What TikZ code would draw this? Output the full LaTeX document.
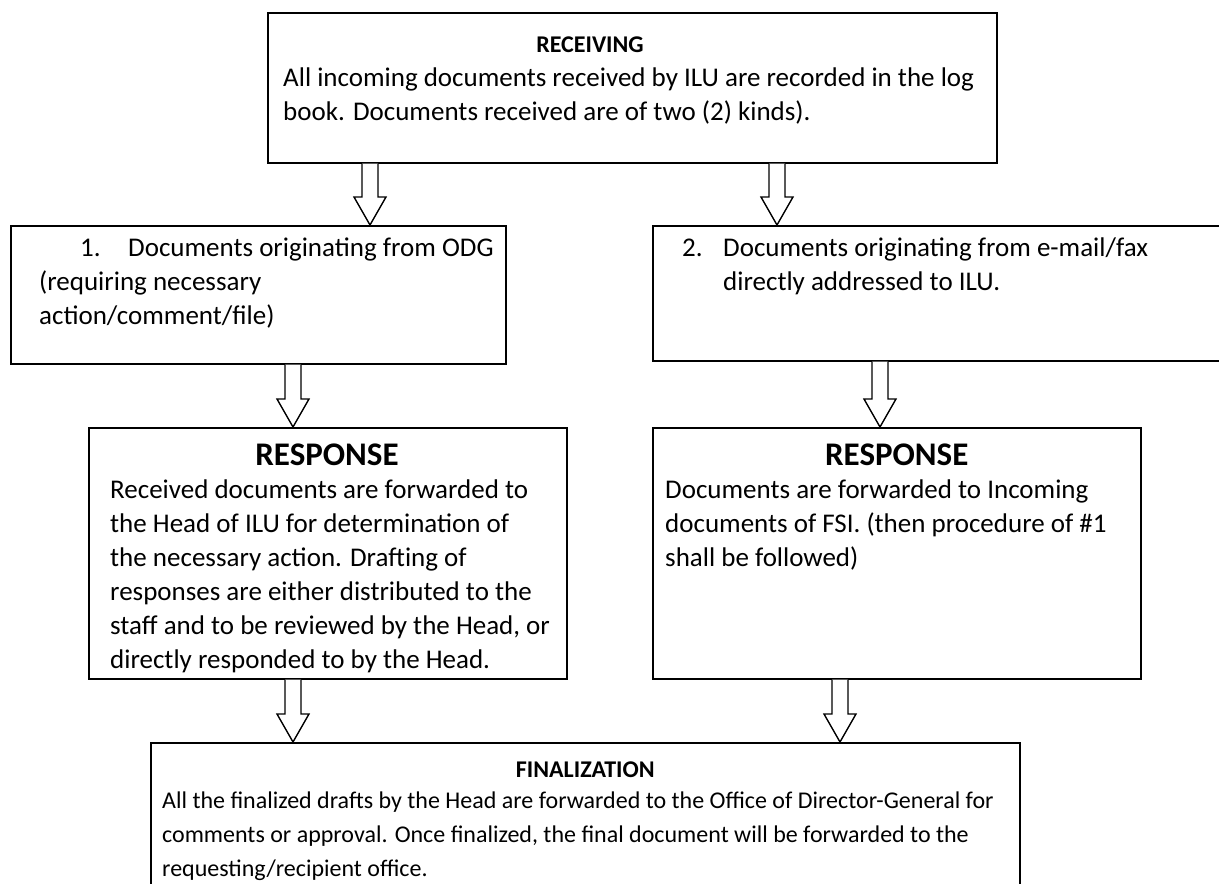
\documentclass[tikz,border=0pt]{standalone}
\usepackage{fontspec}
\setmainfont{Carlito}
\usepackage{tikz}
\usetikzlibrary{positioning,calc}

\newcommand{\hollowarrow}[2]{%
  \draw[blockarr] ($(#1)+(-8,0)$) -- ($(#2)+(-8,-28)$) -- ($(#2)+(-16,-28)$)
    -- (#2) -- ($(#2)+(16,-28)$) -- ($(#2)+(8,-28)$) -- ($(#1)+(8,0)$);}

\begin{document}
\begin{tikzpicture}[x=1pt,y=-1pt,
    frame/.style={draw,line width=1.5pt,inner sep=0pt,anchor=north west},
    blockarr/.style={line width=1.4pt,line join=miter,fill=white},
    bodytxt/.style={inner sep=0pt,anchor=north west,align=left,
      font=\fontsize{27}{34}\selectfont},
    finaltxt/.style={bodytxt,font=\fontsize{24}{34}\selectfont},
    headtxt/.style={inner sep=0pt,font=\bfseries\fontsize{24}{28}\selectfont},
    bigheadtxt/.style={inner sep=0pt,font=\bfseries\fontsize{33}{38}\selectfont}]
  \useasboundingbox (0,0) rectangle (1219,884);

  \node[frame,minimum width=729,minimum height=150] (recv) at (267,12) {};
  \node[frame,minimum width=495,minimum height=138] (odg) at (10,225) {};
  \node[frame,minimum width=600,minimum height=135] (mail) at (652,225) {};
  \node[frame,minimum width=478,minimum height=251] (respA) at (88,427) {};
  \node[frame,minimum width=488,minimum height=251] (respB) at (652,427) {};
  \node[frame,minimum width=869,minimum height=170] (final) at (150,742) {};

  \node[headtxt] (recvhead) at (590,45) {RECEIVING};
  \node[bodytxt] (recvbody) at (283,68)
    {All incoming documents received by ILU are recorded in the log\\
     book. Documents received are of two (2) kinds).};

  \node[bodytxt] (odgbody) at (39,238)
    {\hspace*{41pt}\makebox[48pt][l]{1.}Documents originating from ODG\\
     (requiring necessary\\
     action/comment/file)};
  \node[bodytxt] (mailbody) at (682,238)
    {\makebox[41pt][l]{2.}Documents originating from e-mail/fax\\
     \hspace*{41pt}directly addressed to ILU.};

  \node[bigheadtxt] (respAhead) at (327,455) {RESPONSE};
  \node[bodytxt] (respAbody) at (110,480)
    {Received documents are forwarded to\\
     the Head of ILU for determination of\\
     the necessary action. Drafting of\\
     responses are either distributed to the\\
     staff and to be reviewed by the Head, or\\
     directly responded to by the Head.};

  \node[bigheadtxt] (respBhead) at (respB.north |- 0,455) {RESPONSE};
  \node[bodytxt] (respBbody) at (665,480)
    {Documents are forwarded to Incoming\\
     documents of FSI. (then procedure of \#1\\
     shall be followed)};

  \node[headtxt] (finalhead) at (final.north |- 0,770) {FINALIZATION};
  \node[finaltxt] (finalbody) at (162,792)
    {All the finalized drafts by the Head are forwarded to the Office of Director-General for\\
     comments or approval. Once finalized, the final document will be forwarded to the\\
     requesting/recipient office.};

  \hollowarrow{recv.south -| 370,0}{odg.north -| 370,0}
  \hollowarrow{recv.south -| 777,0}{mail.north -| 777,0}
  \hollowarrow{odg.south -| 293,0}{respA.north -| 293,0}
  \hollowarrow{mail.south -| 880,0}{respB.north -| 880,0}
  \hollowarrow{respA.south -| 293,0}{final.north -| 293,0}
  \hollowarrow{respB.south -| 840,0}{final.north -| 840,0}
\end{tikzpicture}
\end{document}
